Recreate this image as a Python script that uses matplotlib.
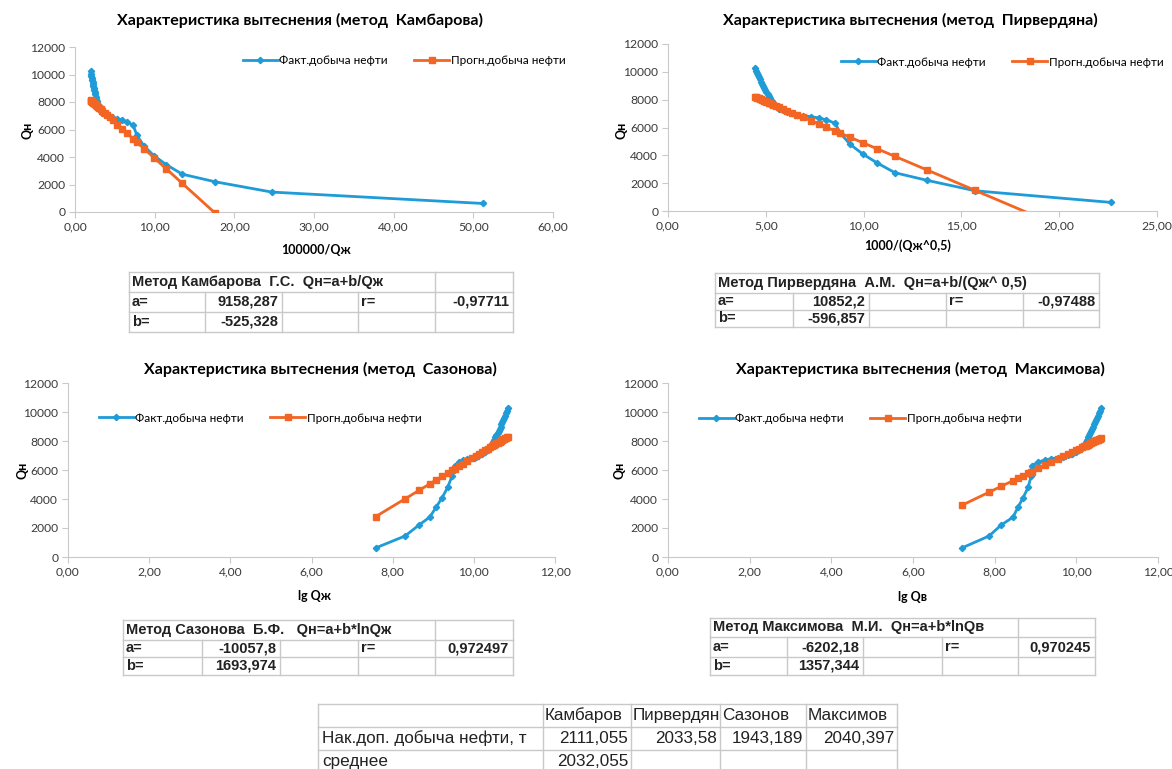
import numpy as np
import matplotlib.pyplot as plt
from matplotlib.ticker import FuncFormatter, MultipleLocator

W, H = 1172, 769

# cumulative liquid (Qж) and oil (Qн) production
q_liq = [1953, 4050, 5690, 7430, 8740, 10100, 11560, 12900, 13680, 15240,
         16870, 18770, 21000, 23000, 25000, 27000, 29000, 31000, 33000, 34500,
         35500, 36500, 37500, 38500, 39500, 40500, 41500, 42500, 43500, 44500,
         45500, 46500, 47500, 48500, 49500, 50500]
q_oil = [620, 1450, 2200, 2750, 3450, 4100, 4800, 5600, 6300, 6550,
         6690, 6780, 6850, 6930, 7020, 7120, 7230, 7360, 7520, 7700,
         7900, 8100, 8250, 8400, 8550, 8700, 8850, 9000, 9150, 9300,
         9450, 9600, 9750, 9900, 10050, 10250]

methods = ['Камбарова', 'Пирвердяна', 'Сазонова', 'Максимова']
x_labels = ['100000/Qж', '1000/(Qж^0,5)', 'lg Qж', 'lg Qв']
x_max = [60, 25, 12, 12]
x_step = [10, 5, 2, 2]
table_titles = ['Метод Камбарова  Г.С.  Qн=a+b/Qж',
                'Метод Пирвердяна  А.М.  Qн=a+b/(Qж^ 0,5)',
                'Метод Сазонова  Б.Ф.   Qн=a+b*lnQж',
                'Метод Максимова  М.И.  Qн=a+b*lnQв']
coef_a = [9158.287, 10852.2, -10057.8, -6202.18]
coef_b = [-525.328, -596.857, 1693.974, 1357.344]
coef_r = [-0.97711, -0.97488, 0.972497, 0.970245]

summary_cols = ['Камбаров', 'Пирвердян', 'Сазонов', 'Максимов']
extra_oil = [2111.055, 2033.58, 1943.189, 2040.397]
extra_mean = 2032.055

liq = np.array(q_liq, float)
oil = np.array(q_oil, float)
xs = [100000 / liq, 1000 / np.sqrt(liq), np.log(liq), np.log(liq - oil)]

BLUE = '#1f9bd7'
ORANGE = '#f26522'
GRID = '#c9c9c9'
CHART_FONT = 'Lato'
TABLE_FONT = 'Liberation Sans'


def fx(x):
    return x / W


def fy(y):
    return 1 - y / H


def comma(v):
    return str(v).replace('.', ',')


fig = plt.figure(figsize=(W / 100, H / 100), dpi=100)

# axes boxes in pixels: left, right, top, bottom
boxes = [(75, 553, 47, 212), (668, 1157, 44, 211),
         (68, 555, 383, 557), (668, 1158, 383, 557)]
title_pos = [(300, 20), (910, 20), (320, 369), (920, 369)]
xlabel_pos = [(316, 250), (908, 246), (315, 596), (912, 597)]
ylabel_pos = [(28, 130), (622, 130), (22, 470), (620, 470)]
legend_pos = [(404, 61), (1002, 62), (260, 418), (860, 419)]

for i in range(4):
    l, r, t, b = boxes[i]
    ax = fig.add_axes([fx(l), fy(b), fx(r - l), (b - t) / H])
    x = xs[i]
    order = np.argsort(x)
    x = x[order]
    ax.plot(x, oil[order], color=BLUE, lw=2, marker='D', ms=3.2,
            label='Факт.добыча нефти', zorder=3)
    ax.plot(x, coef_a[i] + coef_b[i] * x, color=ORANGE, lw=2, marker='s',
            ms=5, label='Прогн.добыча нефти', zorder=4)
    ax.set_xlim(0, x_max[i])
    ax.set_ylim(0, 12000)
    ax.xaxis.set_major_locator(MultipleLocator(x_step[i]))
    ax.yaxis.set_major_locator(MultipleLocator(2000))
    ax.xaxis.set_major_formatter(FuncFormatter(lambda v, p: f'{v:.2f}'.replace('.', ',')))
    ax.yaxis.set_major_formatter(FuncFormatter(lambda v, p: f'{v:.0f}'))
    for s in ['top', 'right']:
        ax.spines[s].set_visible(False)
    for s in ['left', 'bottom']:
        ax.spines[s].set_color(GRID)
    ax.tick_params(colors=GRID, length=4, pad=3, labelcolor='#3a3a3a', labelsize=8.7)
    for lab in ax.get_xticklabels() + ax.get_yticklabels():
        lab.set_fontfamily(CHART_FONT)
    ax.patch.set_alpha(0)

    fig.text(fx(title_pos[i][0]), fy(title_pos[i][1]),
             'Характеристика вытеснения (метод  %s)' % methods[i],
             ha='center', va='center', fontsize=11.5, fontweight='bold',
             family=CHART_FONT)
    fig.text(fx(xlabel_pos[i][0]), fy(xlabel_pos[i][1]), x_labels[i],
             ha='center', va='center', fontsize=9, fontweight='bold',
             family=CHART_FONT)
    fig.text(fx(ylabel_pos[i][0]), fy(ylabel_pos[i][1]), 'Qн', rotation=90,
             ha='center', va='center', fontsize=9, fontweight='bold',
             family=CHART_FONT)
    ax.legend(loc='center', bbox_to_anchor=(fx(legend_pos[i][0]), fy(legend_pos[i][1])),
              bbox_transform=fig.transFigure, ncol=2, frameon=False,
              handlelength=3.0, columnspacing=2.2, handletextpad=0.1,
              prop={'family': CHART_FONT, 'size': 8.5})


def grid_lines(cols, rows, title_cols):
    for y in rows:
        fig.add_artist(plt.Line2D([fx(cols[0]), fx(cols[-1])], [fy(y), fy(y)],
                                  color=GRID, lw=1))
    for c in cols:
        fig.add_artist(plt.Line2D([fx(c), fx(c)], [fy(rows[1]), fy(rows[-1])],
                                  color=GRID, lw=1))
    for c in title_cols:
        fig.add_artist(plt.Line2D([fx(c), fx(c)], [fy(rows[0]), fy(rows[1])],
                                  color=GRID, lw=1))


# method tables: column edges and row edges in pixels
tcols = [[129, 205, 282, 358, 435, 513],
         [715, 793, 869, 946, 1023, 1099],
         [123, 202, 280, 358, 435, 513],
         [710, 787, 863, 942, 1018, 1095]]
trows = [[272, 292, 312, 332], [273, 293, 310, 327],
         [620, 640, 657, 675], [618, 637, 657, 675]]
title_split = [[129, 435, 513], [715, 1099], [123, 435, 513], [710, 1018, 1095]]

for i in range(4):
    c, rw = tcols[i], trows[i]
    grid_lines(c, rw, title_split[i])
    ym = [(rw[k] + rw[k + 1]) / 2 for k in range(3)]
    kw = dict(va='center', fontsize=10.5, fontweight='bold', family=TABLE_FONT,
              color='#222222')
    fig.text(fx(c[0] + 3), fy(ym[0]), table_titles[i], ha='left', **kw)
    fig.text(fx(c[0] + 3), fy(ym[1]), 'a=', ha='left', **kw)
    fig.text(fx(c[0] + 3), fy(ym[2]), 'b=', ha='left', **kw)
    fig.text(fx(c[2] - 4), fy(ym[1]), comma(coef_a[i]), ha='right', **kw)
    fig.text(fx(c[2] - 4), fy(ym[2]), comma(coef_b[i]), ha='right', **kw)
    fig.text(fx(c[3] + 3), fy(ym[1]), 'r=', ha='left', **kw)
    fig.text(fx(c[5] - 4), fy(ym[1]), comma(coef_r[i]), ha='right', **kw)

# summary table
scols = [318, 543, 631, 720, 806, 897]
srows = [704, 727, 750, 773]
grid_lines(scols, srows, scols)
sm = [(srows[k] + srows[k + 1]) / 2 for k in range(3)]
skw = dict(va='center', fontsize=12.3, family=TABLE_FONT, color='#222222')
for j, name in enumerate(summary_cols):
    t = fig.text(fx(scols[j + 1] + 2), fy(sm[0]), name, ha='left', **skw)
    clip = plt.Rectangle((fx(scols[j + 1]), fy(srows[1])), fx(scols[j + 2] - scols[j + 1]),
                         (srows[1] - srows[0]) / H, transform=fig.transFigure,
                         visible=False)
    fig.add_artist(clip)
    t.set_clip_path(clip)
    t.set_clip_on(True)
    fig.text(fx(scols[j + 2] - 3), fy(sm[1]), comma(extra_oil[j]), ha='right', **skw)
fig.text(fx(scols[0] + 4), fy(sm[1]), 'Нак.доп. добыча нефти, т', ha='left', **skw)
fig.text(fx(scols[0] + 4), fy(sm[2]), 'среднее', ha='left', **skw)
fig.text(fx(scols[2] - 3), fy(sm[2]), comma(extra_mean), ha='right', **skw)

fig.savefig('out.png', dpi=100)
